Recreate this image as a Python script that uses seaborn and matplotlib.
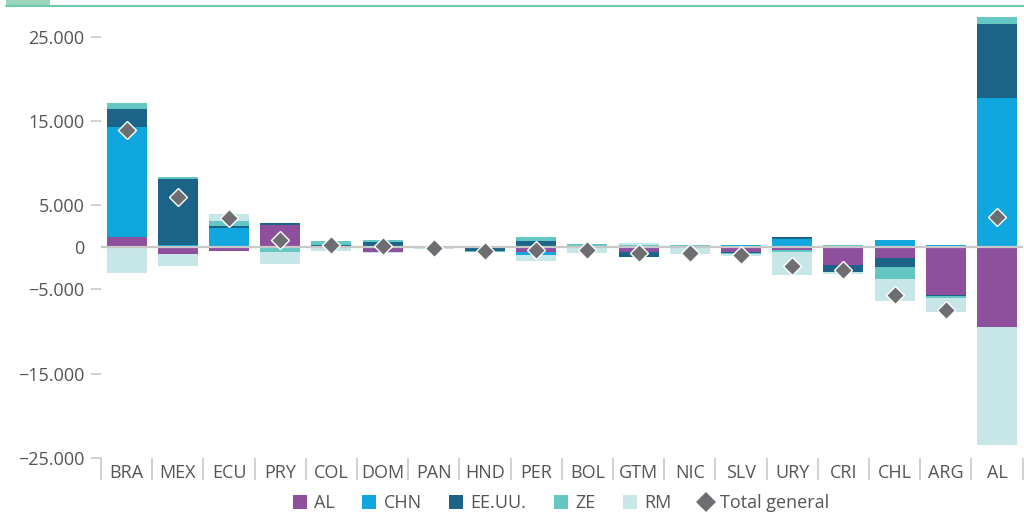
import numpy as np
import matplotlib
matplotlib.use("Agg")
import matplotlib.pyplot as plt
import seaborn as sns
from matplotlib.lines import Line2D
from matplotlib.patches import Rectangle
from matplotlib.ticker import FixedLocator, FuncFormatter

# Country codes along the x axis
countries = ["BRA", "MEX", "ECU", "PRY", "COL", "DOM", "PAN", "HND", "PER",
             "BOL", "GTM", "NIC", "SLV", "URY", "CRI", "CHL", "ARG", "AL"]

# Contribution of each partner (stacked segments)
al_vals = [1200, -800, -400, 2700, 70, -520, 0, 0, -550,
           0, -600, 0, -500, -360, -2050, -1300, -5600, -9450]
chn_vals = [13100, 250, 2350, 0, 0, 0, 0, 0, -350,
            160, 0, 120, 250, 950, 0, 830, 240, 17700]
eeuu_vals = [2150, 7800, 160, 200, 240, 670, 0, -400, 790,
             0, -550, 0, -170, 240, -830, -1070, -160, 8800]
ze_vals = [700, 250, 650, -560, 430, 200, 150, -200, 480,
           200, 250, 100, -170, -240, 240, -1430, -200, 830]
rm_vals = [-3100, -1430, 820, -1430, -440, -200, -150, 200, -670,
           -640, 250, -850, -200, -2650, -250, -2620, -1670, -14000]

# Overall total per country (diamonds)
total_vals = [13950, 6000, 3450, 850, 250, 150, -50, -400, -300,
              -280, -640, -720, -880, -2180, -2650, -5630, -7420, 3650]

y_ticks = [-25000, -15000, -5000, 0, 5000, 15000, 25000]

series_names = ["AL", "CHN", "EE.UU.", "ZE", "RM"]
series_values = [al_vals, chn_vals, eeuu_vals, ze_vals, rm_vals]
series_colors = ["#8e4f9c", "#10a7df", "#1b6488", "#65c7c4", "#c6e6e7"]
total_label = "Total general"
total_color = "#6d6e71"

sns.set_theme(style="white")
plt.rcParams["font.family"] = ["Open Sans", "DejaVu Sans"]
text_color = "#555555"
grid_gray = "#c8c8c8"
fs = 13

fig = plt.figure(figsize=(10.24, 5.29), dpi=100)
ax = fig.add_axes([101 / 1024, 1 - 458 / 529, 921.6 / 1024, 450 / 529])

# Diverging stacked bars: positives grow up from zero, negatives down
n = len(countries)
pos_base = np.zeros(n)
neg_base = np.zeros(n)
for vals, color in zip(series_values, series_colors):
    v = np.asarray(vals, dtype=float)
    bottom = np.where(v >= 0, pos_base, neg_base)
    sns.barplot(x=countries, y=v, bottom=bottom, order=countries, color=color,
                saturation=1, width=0.78, linewidth=0, errorbar=None, ax=ax,
                zorder=2)
    pos_base += np.clip(v, 0, None)
    neg_base += np.clip(v, None, 0)

ax.axhline(0, color=grid_gray, lw=1.6, zorder=3)

sns.pointplot(x=countries, y=total_vals, order=countries, linestyle="none",
              marker="D", markersize=9, color=total_color,
              markeredgecolor="white", markeredgewidth=1.0, errorbar=None,
              ax=ax, zorder=5)

# Axes limits and ticks
ax.set_xlim(-0.5, n - 0.5)
ax.set_ylim(-25000, 28400)
ax.set_xlabel("")
ax.set_ylabel("")
for s in ax.spines.values():
    s.set_visible(False)

ax.yaxis.set_major_locator(FixedLocator(y_ticks))
ax.yaxis.set_major_formatter(FuncFormatter(
    lambda v, p: ("−" if v < 0 else "") + f"{abs(v):,.0f}".replace(",", ".")))
ax.tick_params(axis="y", which="major", left=True, length=7, width=1.2,
               color=grid_gray, pad=5, labelsize=fs, labelcolor=text_color)
for t in ax.yaxis.get_major_ticks():
    if t.get_loc() == 0:
        t.tick1line.set_visible(False)

ax.set_xticks(range(n))
ax.set_xticklabels(countries)
ax.xaxis.set_minor_locator(FixedLocator(np.arange(-0.5, n, 1.0)))
ax.tick_params(axis="x", which="major", bottom=True, length=0, pad=4,
               labelsize=fs, labelcolor=text_color)
ax.tick_params(axis="x", which="minor", bottom=True, length=16, width=1.2,
               color=grid_gray)

# Legend
handles = [Line2D([0], [0], marker="s", linestyle="none", markersize=10,
                  markerfacecolor=c, markeredgewidth=0, label=nm)
           for nm, c in zip(series_names, series_colors)]
handles.append(Line2D([0], [0], marker="D", linestyle="none", markersize=10,
                      markerfacecolor=total_color, markeredgewidth=0,
                      label=total_label))
fig.legend(handles=handles, loc="center", bbox_to_anchor=(0.548, 0.049),
           ncol=6, frameon=False, fontsize=fs, handlelength=0.8,
           handletextpad=0.4, columnspacing=1.5, labelcolor=text_color)

# Header rule with tab
fig.add_artist(Line2D([6 / 1024, 1], [1 - 5.8 / 529] * 2, color="#6dcaa9",
                      lw=1.5, transform=fig.transFigure))
fig.add_artist(Rectangle((6 / 1024, 1 - 6 / 529), 44 / 1024, 6 / 529,
                         color="#98d5ba", transform=fig.transFigure, lw=0))

fig.savefig("out.png", dpi=100)
